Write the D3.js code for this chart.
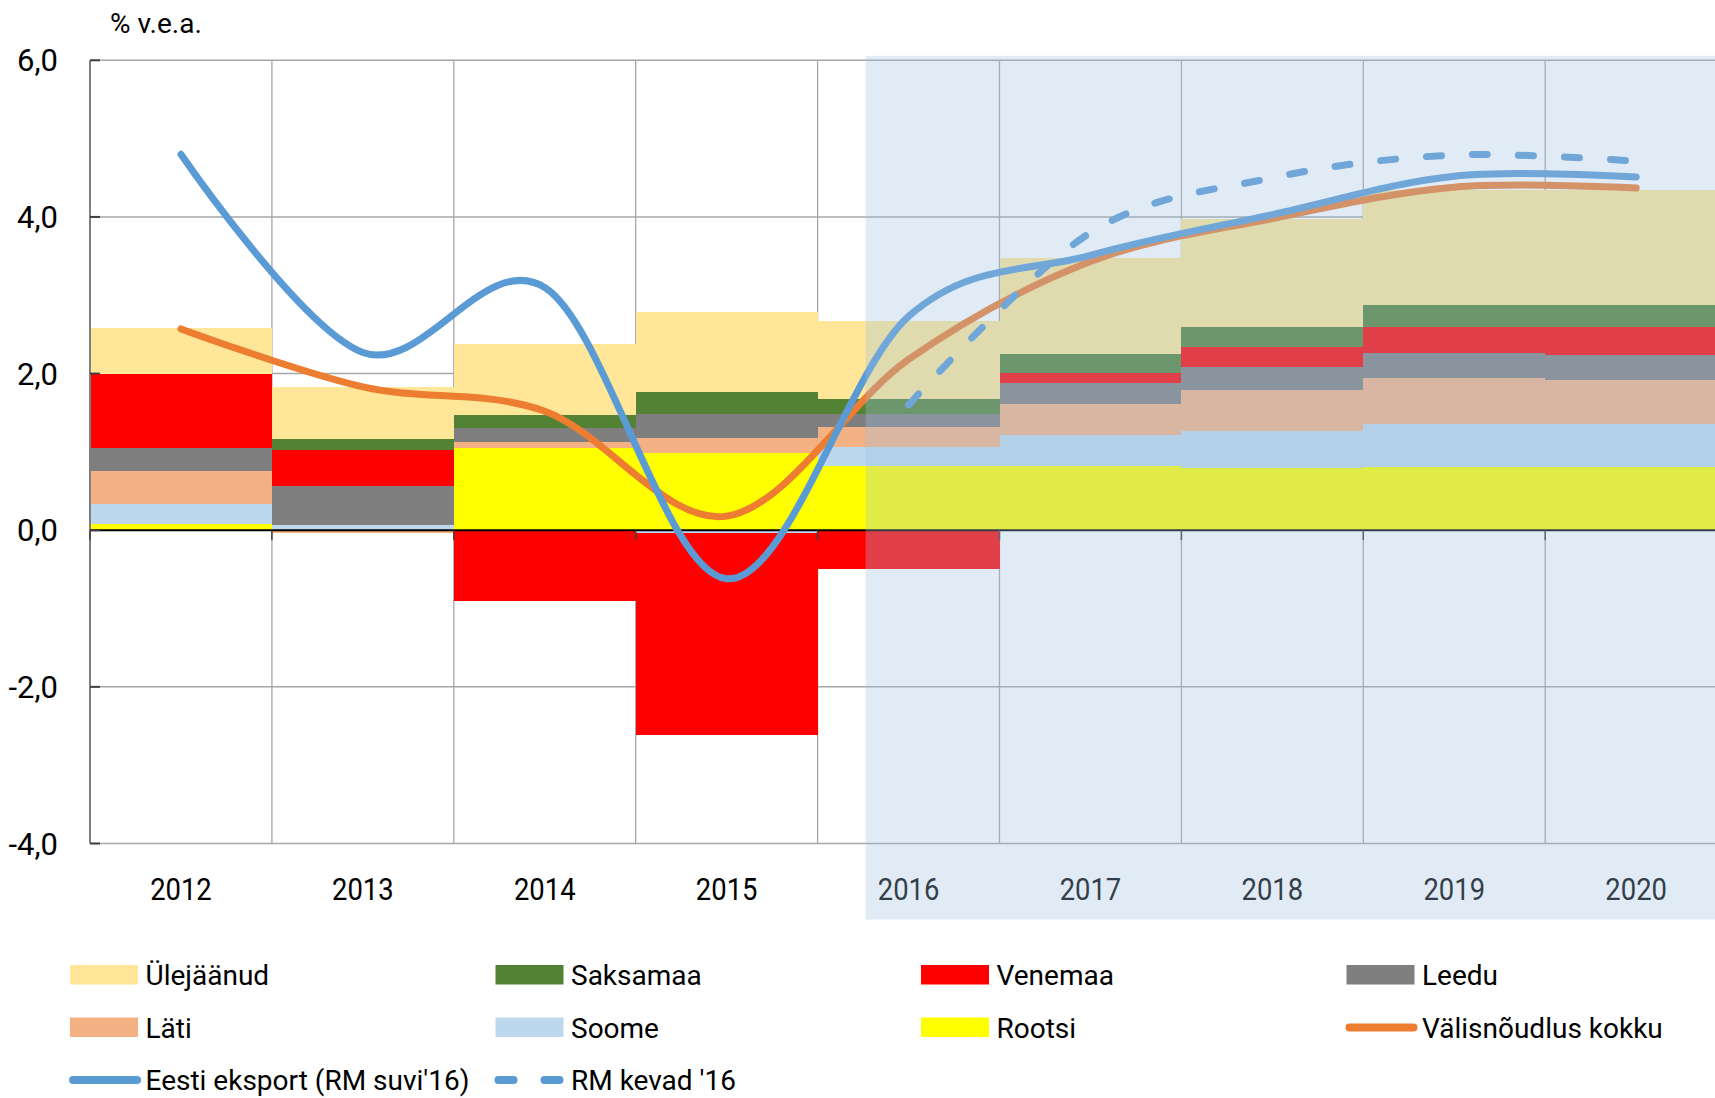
<!DOCTYPE html>
<html>
<head>
<meta charset="utf-8">
<script src="https://cdn.jsdelivr.net/npm/d3@7"></script>
<style>
  html, body { margin: 0; padding: 0; background: #ffffff; }
  svg { display: block; font-family: Roboto, "Noto Sans", sans-serif; }
</style>
</head>
<body>
<svg id="chart" width="1715" height="1098"></svg>
<script>
// ---------------- DATA ----------------
const years = ["2012", "2013", "2014", "2015", "2016", "2017", "2018", "2019", "2020"];

// stacked contributions (percentage points), bottom to top
const rootsi    = [0.08, -0.01, 1.05, 0.99, 0.82, 0.82, 0.79, 0.81, 0.81];
const soome     = [0.25, 0.07, 0.00, -0.04, 0.24, 0.40, 0.48, 0.54, 0.54];
const lati      = [0.42, -0.02, 0.08, 0.19, 0.26, 0.39, 0.52, 0.59, 0.57];
const leedu     = [0.30, 0.50, 0.17, 0.31, 0.17, 0.27, 0.30, 0.32, 0.32];
const venemaa   = [0.95, 0.46, -0.90, -2.57, -0.50, 0.13, 0.25, 0.33, 0.35];
const saksamaa  = [0.00, 0.13, 0.17, 0.28, 0.19, 0.24, 0.26, 0.29, 0.29];
const ulejaanud = [0.58, 0.67, 0.91, 1.01, 0.99, 1.22, 1.38, 1.47, 1.46];

// lines
const valisnoudlus = [2.57, 1.83, 1.52, 0.18, 2.18, 3.43, 3.98, 4.38, 4.37];
const eestiEksport = [4.80, 2.27, 3.10, -0.62, 2.73, 3.51, 4.03, 4.52, 4.51];
const rmKevadYears = ["2016", "2017", "2018", "2019", "2020"];
const rmKevad      = [1.60, 3.80, 4.50, 4.79, 4.71];

const yTickValues = [-4, -2, 0, 2, 4, 6];
const yTickLabels = ["-4,0", "-2,0", "0,0", "2,0", "4,0", "6,0"];
const unitLabel = "% v.e.a.";

const barKeys   = ["Rootsi", "Soome", "Läti", "Leedu", "Venemaa", "Saksamaa", "Ülejäänud"];
const barValues = [rootsi, soome, lati, leedu, venemaa, saksamaa, ulejaanud];
const barColors = ["#FFFF00", "#BDD7EE", "#F4B183", "#7F7F7F", "#FF0000", "#548235", "#FFE699"];

const lineNames = ["Välisnõudlus kokku", "Eesti eksport (RM suvi'16)", "RM kevad '16"];
const colorOrange = "#ED7D31";
const colorBlue = "#5B9BD5";

// legend order (row-major, 4 columns)
const legendItems = [
  { label: "Ülejäänud", type: "rect", color: "#FFE699" },
  { label: "Saksamaa", type: "rect", color: "#548235" },
  { label: "Venemaa", type: "rect", color: "#FF0000" },
  { label: "Leedu", type: "rect", color: "#7F7F7F" },
  { label: "Läti", type: "rect", color: "#F4B183" },
  { label: "Soome", type: "rect", color: "#BDD7EE" },
  { label: "Rootsi", type: "rect", color: "#FFFF00" },
  { label: lineNames[0], type: "line", color: colorOrange },
  { label: lineNames[1], type: "line", color: colorBlue },
  { label: lineNames[2], type: "dash", color: colorBlue }
];

// ---------------- LAYOUT ----------------
const svg = d3.select("#chart");
const plotLeft = 90, plotRight = 1727.1, plotTop = 60.3, plotBottom = 843.5;

const x = d3.scaleBand().domain(years).range([plotLeft, plotRight]).paddingInner(0).paddingOuter(0);
const y = d3.scaleLinear().domain([-4, 6]).range([plotBottom, plotTop]);
const bw = x.bandwidth();
const cx = d => x(d) + bw / 2;

svg.append("rect").attr("width", 1715).attr("height", 1098).attr("fill", "#fff");

// gridlines
const grid = svg.append("g");
grid.selectAll("line.h").data(yTickValues.filter(v => v !== 0)).join("line")
  .attr("x1", plotLeft).attr("x2", plotRight)
  .attr("y1", d => y(d)).attr("y2", d => y(d))
  .attr("stroke", "#A6A6A6").attr("stroke-width", 1.5);
grid.selectAll("line.v").data(years.slice(1)).join("line")
  .attr("x1", d => x(d)).attr("x2", d => x(d))
  .attr("y1", y(6)).attr("y2", y(-4))
  .attr("stroke", "#A6A6A6").attr("stroke-width", 1.3);

// stacked bars
const table = years.map((yr, i) => {
  const row = { year: yr };
  barKeys.forEach((k, j) => row[k] = barValues[j][i]);
  return row;
});
const stacked = d3.stack().keys(barKeys).offset(d3.stackOffsetDiverging)(table);

svg.append("g").selectAll("g").data(stacked).join("g")
  .attr("fill", (d, i) => barColors[i])
  .selectAll("rect").data(d => d).join("rect")
  .attr("x", d => x(d.data.year))
  .attr("width", bw)
  .attr("y", d => y(Math.max(d[0], d[1])))
  .attr("height", d => Math.abs(y(d[0]) - y(d[1])))
  .attr("shape-rendering", "crispEdges");

// axes
const axisG = svg.append("g");
axisG.append("line")
  .attr("x1", plotLeft).attr("x2", plotLeft).attr("y1", y(6)).attr("y2", y(-4))
  .attr("stroke", "#7F7F7F").attr("stroke-width", 2);
axisG.append("line")
  .attr("x1", plotLeft).attr("x2", plotRight).attr("y1", y(0)).attr("y2", y(0))
  .attr("stroke", "#000").attr("stroke-width", 2);
axisG.selectAll("line.yt").data(yTickValues).join("line")
  .attr("x1", plotLeft).attr("x2", plotLeft + 10)
  .attr("y1", d => y(d)).attr("y2", d => y(d))
  .attr("stroke", "#404040").attr("stroke-width", 2);
axisG.selectAll("line.xt").data(years).join("line")
  .attr("x1", d => x(d)).attr("x2", d => x(d))
  .attr("y1", y(0)).attr("y2", y(0) + 10)
  .attr("stroke", "#404040").attr("stroke-width", 1.5);

// y tick labels
axisG.selectAll("text.yl").data(yTickValues).join("text")
  .attr("x", 58).attr("y", d => y(d))
  .attr("dy", "0.355em")
  .attr("text-anchor", "end")
  .attr("font-size", 31).attr("fill", "#000")
  .text((d, i) => yTickLabels[i]);

// unit label
svg.append("text").attr("x", 110).attr("y", 33)
  .attr("font-size", 28).attr("fill", "#000").text(unitLabel);

// x labels (condensed)
axisG.selectAll("g.xl").data(years).join("g")
  .attr("transform", d => `translate(${cx(d)},900) scale(0.87,1)`)
  .append("text")
  .attr("text-anchor", "middle")
  .attr("font-size", 31.5).attr("fill", "#000")
  .text(d => d);

// lines
const lineGen = d3.line().x(d => cx(d[0])).y(d => y(d[1])).curve(d3.curveCatmullRom.alpha(0));

svg.append("path")
  .attr("d", lineGen(years.map((yr, i) => [yr, valisnoudlus[i]])))
  .attr("fill", "none").attr("stroke", colorOrange).attr("stroke-width", 7)
  .attr("stroke-linecap", "round").attr("stroke-linejoin", "round");

svg.append("path")
  .attr("d", lineGen(years.map((yr, i) => [yr, eestiEksport[i]])))
  .attr("fill", "none").attr("stroke", colorBlue).attr("stroke-width", 7)
  .attr("stroke-linecap", "round").attr("stroke-linejoin", "round");

svg.append("path")
  .attr("d", lineGen(rmKevadYears.map((yr, i) => [yr, rmKevad[i]])))
  .attr("fill", "none").attr("stroke", colorBlue).attr("stroke-width", 7)
  .attr("stroke-dasharray", "15 31")
  .attr("stroke-linecap", "round").attr("stroke-linejoin", "round");

// forecast shading overlay (on top)
const shadeX = x("2016") + 0.264 * bw;
svg.append("rect")
  .attr("x", shadeX).attr("y", y(6) - 4.5)
  .attr("width", 1715 - shadeX).attr("height", 919.5 - (y(6) - 4.5))
  .attr("fill", "rgb(158,192,225)").attr("fill-opacity", 0.32);

// legend
const legend = svg.append("g");
const colX = [70, 495.5, 921, 1346.5];
const rowY = [985, 1037.5, 1090];
legendItems.forEach((it, i) => {
  const gx = colX[i % 4], gy = rowY[Math.floor(i / 4)];
  const g = legend.append("g");
  if (it.type === "rect") {
    g.append("rect").attr("x", gx).attr("y", gy - 20).attr("width", 68).attr("height", 19.5)
      .attr("fill", it.color);
  } else {
    g.append("line").attr("x1", gx + 3).attr("x2", gx + 67)
      .attr("y1", gy - 10).attr("y2", gy - 10)
      .attr("stroke", it.color).attr("stroke-width", 8).attr("stroke-linecap", "round")
      .attr("stroke-dasharray", it.type === "dash" ? "15 31" : null);
  }
  g.append("text").attr("x", gx + 75.5).attr("y", gy)
    .attr("font-size", 28).attr("fill", "#000").text(it.label);
});
</script>
</body>
</html>
